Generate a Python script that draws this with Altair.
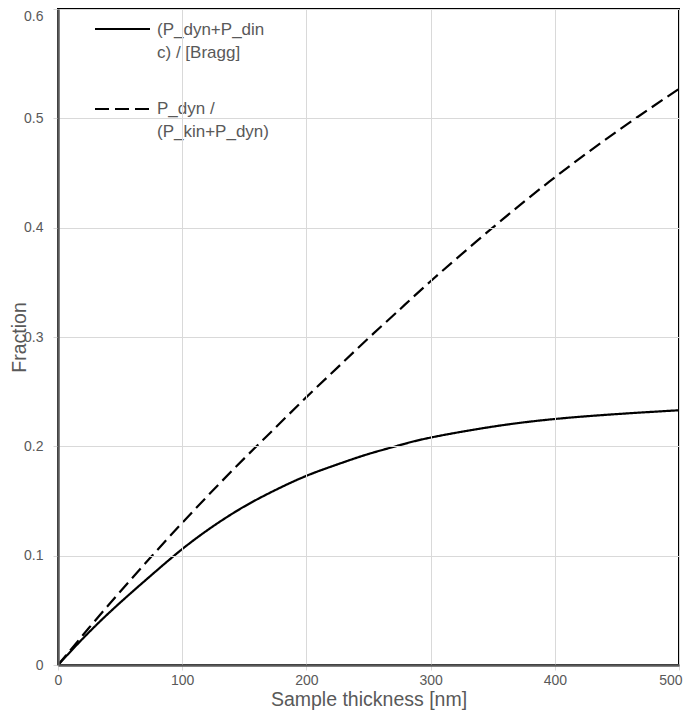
import altair as alt
import pandas as pd

# ---- data ----
thickness_nm = [0, 25, 50, 75, 100, 125, 150, 175, 200, 225, 250, 275, 300, 350, 400, 450, 500]
bragg_fraction = [0, 0.030, 0.057, 0.082, 0.106, 0.127, 0.145, 0.160, 0.173, 0.1835,
                  0.193, 0.201, 0.208, 0.218, 0.225, 0.2295, 0.233]
dyn_fraction = [0, 0.034, 0.067, 0.099, 0.130, 0.160, 0.189, 0.217, 0.245, 0.272,
                0.299, 0.325, 0.351, 0.400, 0.446, 0.488, 0.527]

series_names = ["(P_dyn+P_dinc) / [Bragg]", "P_dyn / (P_kin+P_dyn)"]
legend_lines = [["(P_dyn+P_din", "c) / [Bragg]"], ["P_dyn /", "(P_kin+P_dyn)"]]

x_ticks = [0, 100, 200, 300, 400, 500]
y_ticks = [0, 0.1, 0.2, 0.3, 0.4, 0.5, 0.6]

x_title = "Sample thickness [nm]"
y_title = "Fraction"

# ---- build table ----
rows = []
for t, v in zip(thickness_nm, bragg_fraction):
    rows.append({"thickness": t, "fraction": v, "series": series_names[0]})
for t, v in zip(thickness_nm, dyn_fraction):
    rows.append({"thickness": t, "fraction": v, "series": series_names[1]})
df = pd.DataFrame(rows)

FONT = "Liberation Sans"
TXT = "#595959"
GRID = "#d9d9d9"
W, H = 621, 656

x_enc = alt.X(
    "thickness:Q",
    scale=alt.Scale(domain=[0, 500], nice=False, zero=True),
    axis=alt.Axis(
        values=x_ticks, title=x_title, grid=True, gridColor=GRID, gridWidth=1,
        domainColor=TXT, domainWidth=2.5, tickColor=GRID, tickSize=5, tickWidth=1,
        labelPadding=3, labelFont=FONT, labelFontSize=14, labelColor=TXT,
        labelAlign={"condition": {"test": "datum.value >= 499", "value": "right"},
                    "value": "center"},
        labelOffset={"condition": {"test": "datum.value >= 499", "value": 3},
                     "value": 0},
        titleFont=FONT, titleFontSize=19.5, titleColor=TXT, titleFontWeight="normal",
        titleBaseline="middle", titleY=34, labelFlush=False, zindex=1,
    ),
)
y_enc = alt.Y(
    "fraction:Q",
    scale=alt.Scale(domain=[0, 0.6], nice=False, zero=True),
    axis=alt.Axis(
        values=y_ticks, title=y_title, grid=True, gridColor=GRID, gridWidth=1,
        domainColor=TXT, domainWidth=2.5, tickColor=GRID, tickSize=5, tickWidth=1,
        labelPadding=10, labelFont=FONT, labelFontSize=14, labelColor=TXT,
        labelExpr="datum.value == 0 ? '0' : format(datum.value, '.1f')",
        labelBaseline={"condition": {"test": "datum.value >= 0.59", "value": "top"},
                       "value": "middle"},
        titleFont=FONT, titleFontSize=19.5, titleColor=TXT, titleFontWeight="normal",
        titleBaseline="middle", titleX=-39, titleY=H / 2, titleAngle=-90,
        labelFlush=False, zindex=1,
    ),
)

lines = alt.Chart(df).mark_line(color="black", strokeWidth=2.2, interpolate="natural").encode(
    x=x_enc,
    y=y_enc,
    strokeDash=alt.StrokeDash(
        "series:N",
        scale=alt.Scale(domain=series_names, range=[[1, 0], [13, 6]]),
        legend=None,
    ),
    detail="series:N",
)

one = pd.DataFrame({"k": [0]})
legend_bg = alt.Chart(one).mark_rect(fill="white").encode(
    x=alt.value(35), x2=alt.value(206), y=alt.value(6), y2=alt.value(134)
)
leg_sym1 = alt.Chart(one).mark_rule(color="black", strokeWidth=2.2).encode(
    x=alt.value(37), x2=alt.value(92), y=alt.value(20)
)
leg_sym2 = alt.Chart(one).mark_rule(color="black", strokeWidth=2.2, strokeDash=[14, 6]).encode(
    x=alt.value(37), x2=alt.value(92), y=alt.value(100)
)
leg_txt1 = alt.Chart(one).mark_text(
    align="left", baseline="middle", lineBreak="\n", lineHeight=22.5,
    font=FONT, fontSize=17, color=TXT,
).encode(x=alt.value(99), y=alt.value(21), text=alt.value("\n".join(legend_lines[0])))
leg_txt2 = alt.Chart(one).mark_text(
    align="left", baseline="middle", lineBreak="\n", lineHeight=22.5,
    font=FONT, fontSize=17, color=TXT,
).encode(x=alt.value(99), y=alt.value(100), text=alt.value("\n".join(legend_lines[1])))

chart = alt.layer(lines, legend_bg, leg_sym1, leg_sym2, leg_txt1, leg_txt2).properties(
    width=W, height=H,
    autosize=alt.AutoSizeParams(type="none"),
    padding={"left": 50, "top": 1, "right": 4, "bottom": 48},
    background="white",
).configure_view(stroke="black", strokeWidth=2)

chart.save("out.html", embed_options={"renderer": "svg", "actions": False})
